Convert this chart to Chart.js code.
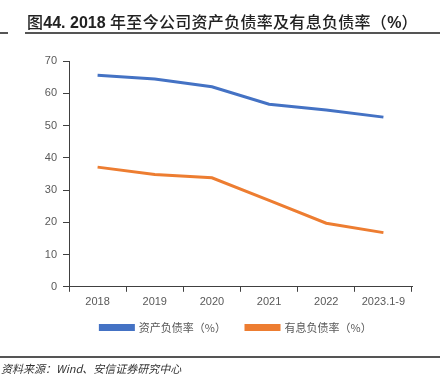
<!DOCTYPE html>
<html>
<head>
<meta charset="utf-8">
<script src="https://cdn.jsdelivr.net/npm/chart.js@4.4.0/dist/chart.umd.min.js"></script>
<style>
  html, body { margin: 0; padding: 0; background: #fff; }
  #wrap { position: relative; width: 440px; height: 386px; overflow: hidden; }
  #titulo { position: absolute; left: 27px; top: 11px; font-family: "Noto Sans CJK SC", sans-serif; font-size: 16px; font-weight: 500; color: #222; white-space: nowrap; line-height: 20px; letter-spacing: 0.3px; }
  #titulo b { font-family: "Liberation Sans", Arial, sans-serif; font-weight: bold; letter-spacing: 0; }
  #lineaA { position: absolute; left: 0; top: 32px; width: 8px; height: 2px; background: #555; }
  #lineaB { position: absolute; left: 25px; top: 32px; width: 415px; height: 2px; background: #555; }
  #lineaC { position: absolute; left: 0; top: 356px; width: 440px; height: 2px; background: #555; }
  #fuente { position: absolute; left: 1px; top: 361px; font-family: "Noto Sans CJK SC", sans-serif; font-size: 11px; font-style: italic; color: #333; white-space: nowrap; line-height: 14px; }
  #lienzo { position: absolute; left: 0; top: 0; width: 440px; height: 386px; }
</style>
</head>
<body>
<div id="wrap">
  <div id="lienzo"><canvas id="grafico" width="440" height="386"></canvas></div>
  <div id="titulo">图<b>44. 2018 </b>年至今公司资产负债率及有息负债率（<b>%</b>）</div>
  <div id="lineaA"></div>
  <div id="lineaB"></div>
  <div id="lineaC"></div>
  <div id="fuente">资料来源：Wind、安信证券研究中心</div>
</div>
<script>
const anios = ['2018', '2019', '2020', '2021', '2022', '2023.1-9'];
const deudaTotal = [65.6, 64.4, 62.0, 56.6, 54.8, 52.6];
const deudaConInteres = [37.1, 34.8, 33.8, 26.8, 19.7, 16.8];
const marcasY = [0, 10, 20, 30, 40, 50, 60, 70];

const contexto = document.querySelector('#grafico');
const grisTexto = '#595959';

// mover la leyenda para que quede como en la imagen
const moverLeyenda = {
    id: 'moverLeyenda',
    afterLayout(chart) {
        const ley = chart.legend;
        const dx = 13;
        const dy = -11;
        ley.left += dx; ley.right += dx;
        ley.top += dy; ley.bottom += dy;
    }
};

window.miGrafico = new Chart(contexto, {
    type: 'line',
    data: {
        labels: anios,
        datasets: [{
            label: '资产负债率（%）',
            data: deudaTotal,
            borderColor: '#4472C4',
            backgroundColor: '#4472C4',
            borderWidth: 3,
            pointRadius: 0,
            tension: 0
        }, {
            label: '有息负债率（%）',
            data: deudaConInteres,
            borderColor: '#ED7D31',
            backgroundColor: '#ED7D31',
            borderWidth: 3,
            pointRadius: 0,
            tension: 0
        }]
    },
    options: {
        responsive: false,
        animation: false,
        layout: {
            padding: { left: 34, right: 28, top: 61, bottom: 32 }
        },
        scales: {
            x: {
                offset: true,
                grid: { display: true, drawOnChartArea: false, offset: true, tickLength: 5, color: '#404040' },
                border: { display: true, color: '#404040', width: 1 },
                ticks: { color: grisTexto, font: { family: 'Liberation Sans', size: 11 }, padding: 4, maxRotation: 0 }
            },
            y: {
                min: 0,
                max: 70,
                afterFit: function (escala) { escala.width = 35; },
                afterBuildTicks: function (escala) { escala.ticks = marcasY.map(v => ({ value: v })); },
                grid: { display: true, drawOnChartArea: false, tickLength: 6, color: '#404040' },
                border: { display: true, color: '#404040', width: 1 },
                ticks: { color: grisTexto, font: { family: 'Liberation Sans', size: 11 }, padding: 6 }
            }
        },
        plugins: {
            legend: {
                position: 'bottom',
                labels: {
                    boxWidth: 33,
                    boxHeight: 4,
                    padding: 20,
                    color: grisTexto,
                    font: { family: 'Noto Sans CJK SC', size: 11 }
                }
            },
            tooltip: { enabled: false }
        }
    },
    plugins: [moverLeyenda]
});
</script>
</body>
</html>
